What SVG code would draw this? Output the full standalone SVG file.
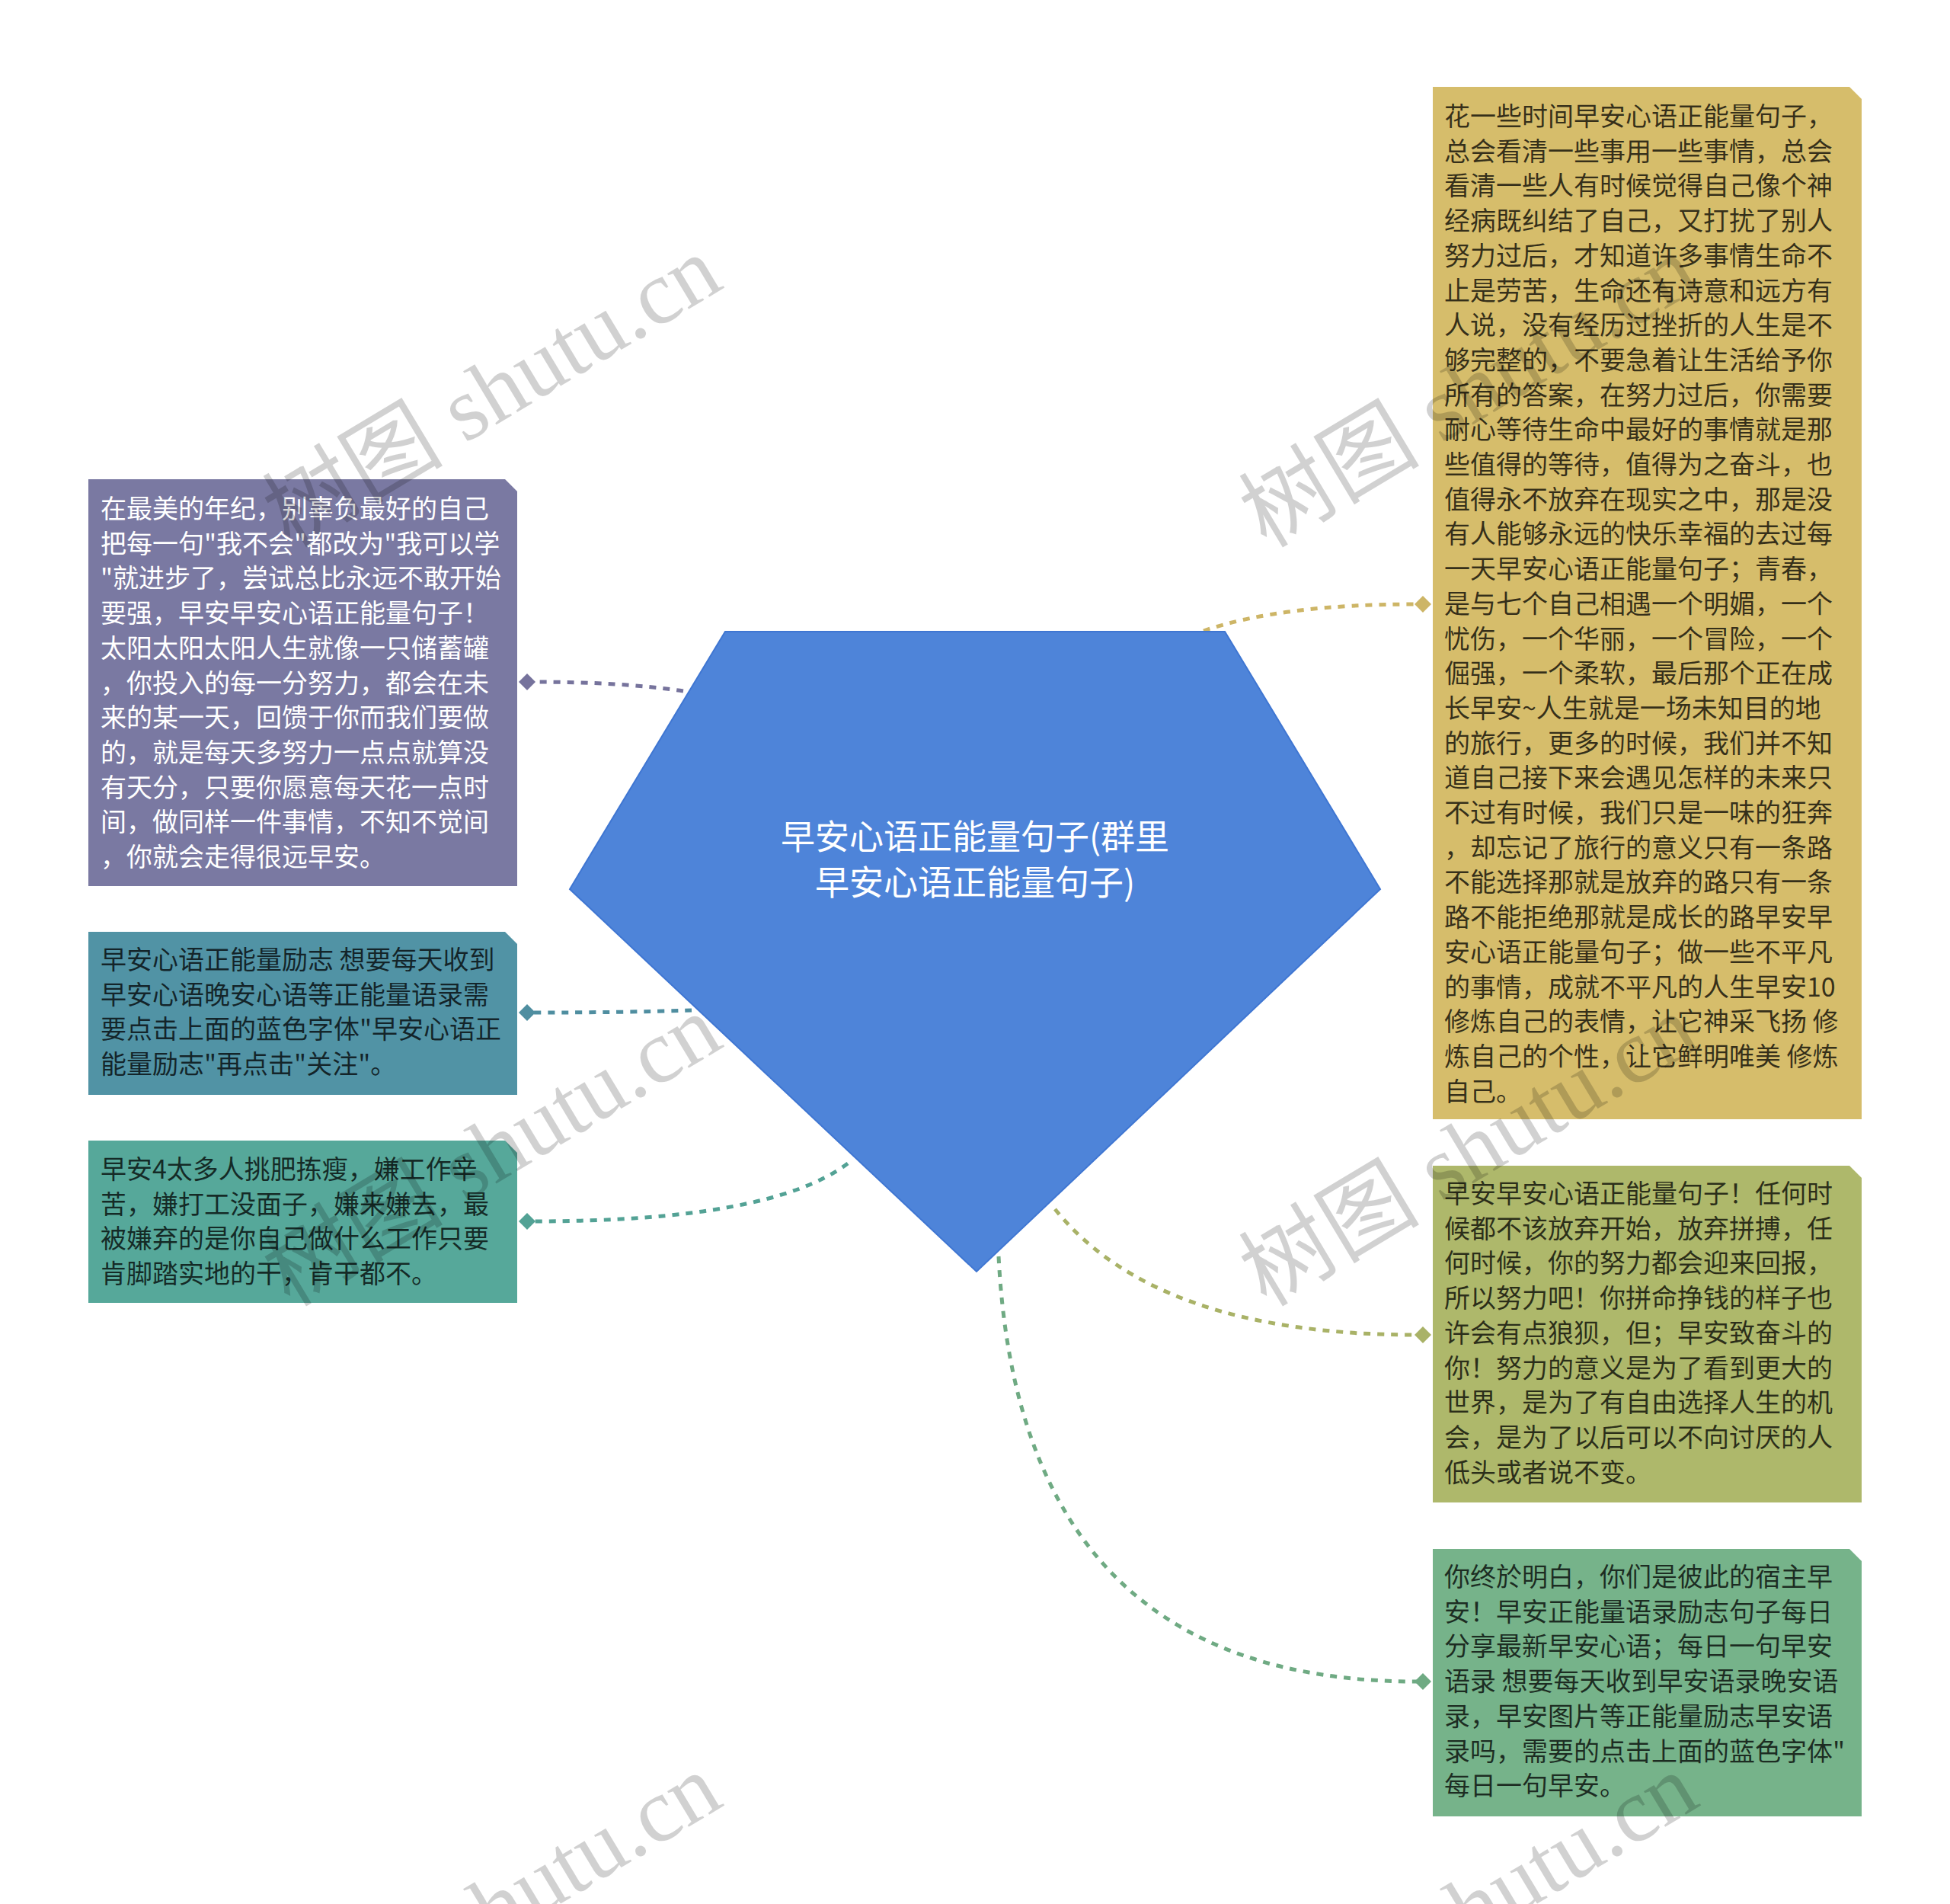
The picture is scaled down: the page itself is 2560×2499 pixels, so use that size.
<svg xmlns="http://www.w3.org/2000/svg" width="2560" height="2499" viewBox="0 0 2560 2499">
<style>
.t{font-family:"Noto Sans CJK SC","Liberation Sans",sans-serif;font-size:34px;}
.dk{fill:#000;fill-opacity:0.75;}
.wt{fill:#fff;}
.c{fill:none;stroke-width:5;stroke-dasharray:9 9;}
.wm{font-family:"Liberation Serif","Noto Sans CJK SC",serif;font-size:119px;fill:#000;fill-opacity:0.18;text-anchor:middle;}
</style>
<rect width="2560" height="2499" fill="#fff"/>
<g id="connectors">
<path class="c" stroke="#76739C" d="M897 907 Q816 895 700 895"/>
<path fill="#76739C" d="M692 884 L703 895 L692 906 L681 895 Z"/>
<path class="c" stroke="#4F8EA0" d="M908 1326 Q816 1329 700 1329"/>
<path fill="#4F8EA0" d="M692 1318 L703 1329 L692 1340 L681 1329 Z"/>
<path class="c" stroke="#53A295" d="M1113 1527 Q1012 1603 700 1603"/>
<path fill="#53A295" d="M692 1592 L703 1603 L692 1614 L681 1603 Z"/>
<path class="c" stroke="#CDB566" d="M1580 828 Q1682 793 1860 793"/>
<path fill="#CDB566" d="M1868 782 L1879 793 L1868 804 L1857 793 Z"/>
<path class="c" stroke="#A9B267" d="M1385 1587 Q1518 1752 1860 1752"/>
<path fill="#A9B267" d="M1868 1741 L1879 1752 L1868 1763 L1857 1752 Z"/>
<path class="c" stroke="#6FAA83" d="M1311 1649 Q1339 2207 1860 2207"/>
<path fill="#6FAA83" d="M1868 2196 L1879 2207 L1868 2218 L1857 2207 Z"/>
</g>
<g id="center">
<path d="M952 829 L1608 829 L1812 1167 L1282 1669 L748 1167 Z" fill="#4E84D9" stroke="#3F76D2" stroke-width="2"/>
<text class="wt" font-family="Noto Sans CJK SC,sans-serif" font-size="45" text-anchor="middle" x="1280" y="1115">早安心语正能量句子(群里</text>
<text class="wt" font-family="Noto Sans CJK SC,sans-serif" font-size="45" text-anchor="middle" x="1280" y="1175">早安心语正能量句子)</text>
</g>
<g id="n1">
<path d="M116 629 H663 L679 645 V1163 H116 Z" fill="#7A79A2"/>
<text class="t wt" x="132" y="680"><tspan x="132">在最美的年纪，别辜负最好的自己</tspan><tspan x="132" dy="45.7">把每一句"我不会"都改为"我可以学</tspan><tspan x="132" dy="45.7">"就进步了，尝试总比永远不敢开始</tspan><tspan x="132" dy="45.7">要强，早安早安心语正能量句子！</tspan><tspan x="132" dy="45.7">太阳太阳太阳人生就像一只储蓄罐</tspan><tspan x="132" dy="45.7">，你投入的每一分努力，都会在未</tspan><tspan x="132" dy="45.7">来的某一天，回馈于你而我们要做</tspan><tspan x="132" dy="45.7">的，就是每天多努力一点点就算没</tspan><tspan x="132" dy="45.7">有天分，只要你愿意每天花一点时</tspan><tspan x="132" dy="45.7">间，做同样一件事情，不知不觉间</tspan><tspan x="132" dy="45.7">，你就会走得很远早安。</tspan></text>
</g>
<g id="n2">
<path d="M116 1223 H663 L679 1239 V1437 H116 Z" fill="#5193A5"/>
<text class="t dk" x="132" y="1272"><tspan x="132">早安心语正能量励志 想要每天收到</tspan><tspan x="132" dy="45.7">早安心语晚安心语等正能量语录需</tspan><tspan x="132" dy="45.7">要点击上面的蓝色字体"早安心语正</tspan><tspan x="132" dy="45.7">能量励志"再点击"关注"。</tspan></text>
</g>
<g id="n3">
<path d="M116 1497 H663 L679 1513 V1710 H116 Z" fill="#56A89A"/>
<text class="t dk" x="132" y="1547"><tspan x="132">早安4太多人挑肥拣瘦，嫌工作辛</tspan><tspan x="132" dy="45.7">苦，嫌打工没面子，嫌来嫌去，最</tspan><tspan x="132" dy="45.7">被嫌弃的是你自己做什么工作只要</tspan><tspan x="132" dy="45.7">肯脚踏实地的干，肯干都不。</tspan></text>
</g>
<g id="n4">
<path d="M1881 114 H2428 L2444 130 V1469 H1881 Z" fill="#D6BD6B"/>
<text class="t dk" x="1896" y="165"><tspan x="1896">花一些时间早安心语正能量句子，</tspan><tspan x="1896" dy="45.7">总会看清一些事用一些事情，总会</tspan><tspan x="1896" dy="45.7">看清一些人有时候觉得自己像个神</tspan><tspan x="1896" dy="45.7">经病既纠结了自己，又打扰了别人</tspan><tspan x="1896" dy="45.7">努力过后，才知道许多事情生命不</tspan><tspan x="1896" dy="45.7">止是劳苦，生命还有诗意和远方有</tspan><tspan x="1896" dy="45.7">人说，没有经历过挫折的人生是不</tspan><tspan x="1896" dy="45.7">够完整的，不要急着让生活给予你</tspan><tspan x="1896" dy="45.7">所有的答案，在努力过后，你需要</tspan><tspan x="1896" dy="45.7">耐心等待生命中最好的事情就是那</tspan><tspan x="1896" dy="45.7">些值得的等待，值得为之奋斗，也</tspan><tspan x="1896" dy="45.7">值得永不放弃在现实之中，那是没</tspan><tspan x="1896" dy="45.7">有人能够永远的快乐幸福的去过每</tspan><tspan x="1896" dy="45.7">一天早安心语正能量句子；青春，</tspan><tspan x="1896" dy="45.7">是与七个自己相遇一个明媚，一个</tspan><tspan x="1896" dy="45.7">忧伤，一个华丽，一个冒险，一个</tspan><tspan x="1896" dy="45.7">倔强，一个柔软，最后那个正在成</tspan><tspan x="1896" dy="45.7">长早安~人生就是一场未知目的地</tspan><tspan x="1896" dy="45.7">的旅行，更多的时候，我们并不知</tspan><tspan x="1896" dy="45.7">道自己接下来会遇见怎样的未来只</tspan><tspan x="1896" dy="45.7">不过有时候，我们只是一味的狂奔</tspan><tspan x="1896" dy="45.7">，却忘记了旅行的意义只有一条路</tspan><tspan x="1896" dy="45.7">不能选择那就是放弃的路只有一条</tspan><tspan x="1896" dy="45.7">路不能拒绝那就是成长的路早安早</tspan><tspan x="1896" dy="45.7">安心语正能量句子；做一些不平凡</tspan><tspan x="1896" dy="45.7">的事情，成就不平凡的人生早安10</tspan><tspan x="1896" dy="45.7">修炼自己的表情，让它神采飞扬 修</tspan><tspan x="1896" dy="45.7">炼自己的个性，让它鲜明唯美 修炼</tspan><tspan x="1896" dy="45.7">自己。</tspan></text>
</g>
<g id="n5">
<path d="M1881 1530 H2428 L2444 1546 V1972 H1881 Z" fill="#AEB86B"/>
<text class="t dk" x="1896" y="1579"><tspan x="1896">早安早安心语正能量句子！任何时</tspan><tspan x="1896" dy="45.7">候都不该放弃开始，放弃拼搏，任</tspan><tspan x="1896" dy="45.7">何时候，你的努力都会迎来回报，</tspan><tspan x="1896" dy="45.7">所以努力吧！你拼命挣钱的样子也</tspan><tspan x="1896" dy="45.7">许会有点狼狈，但；早安致奋斗的</tspan><tspan x="1896" dy="45.7">你！努力的意义是为了看到更大的</tspan><tspan x="1896" dy="45.7">世界，是为了有自由选择人生的机</tspan><tspan x="1896" dy="45.7">会，是为了以后可以不向讨厌的人</tspan><tspan x="1896" dy="45.7">低头或者说不变。</tspan></text>
</g>
<g id="n6">
<path d="M1881 2033 H2428 L2444 2049 V2384 H1881 Z" fill="#76B38A"/>
<text class="t dk" x="1896" y="2082"><tspan x="1896">你终於明白，你们是彼此的宿主早</tspan><tspan x="1896" dy="45.7">安！早安正能量语录励志句子每日</tspan><tspan x="1896" dy="45.7">分享最新早安心语；每日一句早安</tspan><tspan x="1896" dy="45.7">语录 想要每天收到早安语录晚安语</tspan><tspan x="1896" dy="45.7">录，早安图片等正能量励志早安语</tspan><tspan x="1896" dy="45.7">录吗，需要的点击上面的蓝色字体"</tspan><tspan x="1896" dy="45.7">每日一句早安。</tspan></text>
</g>
<g id="watermarks">
<text class="wm" transform="translate(647 516) rotate(-31)" y="38">树图 shutu.cn</text>
<text class="wm" transform="translate(1929 516) rotate(-31)" y="38">树图 shutu.cn</text>
<text class="wm" transform="translate(647 1512) rotate(-31)" y="38">树图 shutu.cn</text>
<text class="wm" transform="translate(1929 1512) rotate(-31)" y="38">树图 shutu.cn</text>
<text class="wm" transform="translate(647 2508) rotate(-31)" y="38">树图 shutu.cn</text>
<text class="wm" transform="translate(1929 2508) rotate(-31)" y="38">树图 shutu.cn</text>
</g>
</svg>
